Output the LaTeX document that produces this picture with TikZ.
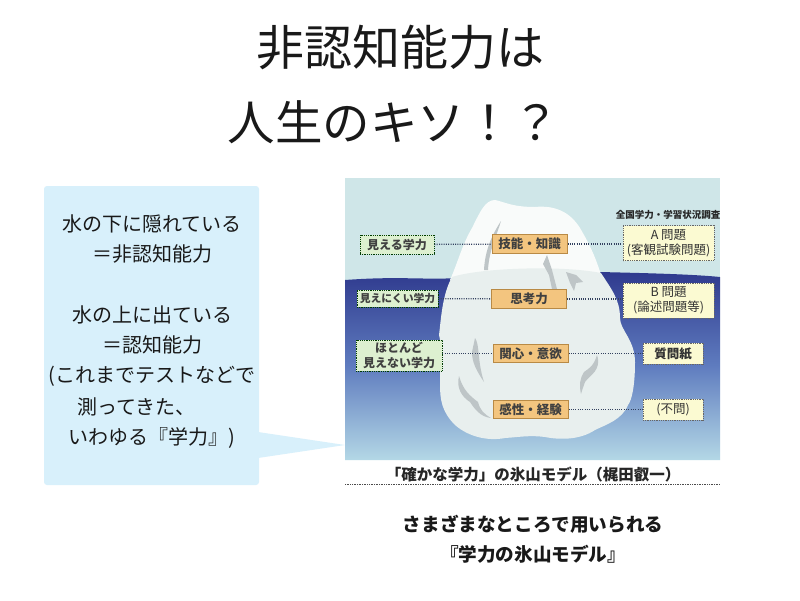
\documentclass[tikz,border=0pt]{standalone}
\usepackage{fontspec}
\setmainfont{Noto Sans CJK JP}
\usetikzlibrary{positioning}
\definecolor{calloutblue}{HTML}{D8F0FB}
\definecolor{skyblue}{HTML}{CFE6E8}
\definecolor{navywater}{HTML}{2F3A8E}
\definecolor{midwater}{HTML}{5F7CBF}
\definecolor{palewater}{HTML}{B4D8E6}
\definecolor{tipwhite}{HTML}{F9FBFA}
\definecolor{bergpale}{HTML}{E8EFEE}
\definecolor{orangebox}{HTML}{F3C57F}
\definecolor{orangeedge}{HTML}{B98A45}
\definecolor{greenbox}{HTML}{DDF0D0}
\definecolor{creambox}{HTML}{FBFAD2}
\definecolor{inkdot}{HTML}{33415F}
\definecolor{arrowgray}{HTML}{BEC5C7}
\tikzset{
  title/.style={font=\fontsize{48}{56}\selectfont, text=black!90},
  bubble/.style={font=\fontsize{20}{24}\selectfont, text=black!90},
  capt/.style={font=\fontsize{18.6}{22}\selectfont\bfseries, text=black!90},
  lvl/.style={draw=orangeedge, line width=1pt, fill=orangebox, inner sep=0pt, font=\fontsize{12.5}{15}\selectfont\bfseries, text=black!75, minimum height=18.5pt, minimum width=75pt},
  kindbox/.style={draw=black!60!green!60!black, densely dotted, line width=.8pt, fill=greenbox, inner sep=0pt, align=center, font=\fontsize{12}{14.5}\selectfont\bfseries, text=black!75},
  testbox/.style={draw=black!60, densely dotted, line width=.8pt, fill=creambox, inner sep=0pt, align=center, font=\fontsize{12.5}{15}\selectfont, text=black!80},
  link/.style={draw=inkdot, line width=1.3pt, dash pattern=on 1pt off 1.3pt},
  lump/.style={fill=arrowgray, draw=none}
}
\begin{document}
\begin{tikzpicture}[x=1pt,y=-1pt]
\useasboundingbox (0,0) rectangle (800,600);
\fill[white] (0,0) rectangle (800,600);
% titles
\node[title] (t1) at (400,47) {非認知能力は};
\node[title, font=\fontsize{47.5}{56}\selectfont] (t2) at (394,122) {人生のキソ！？};
% callout
\fill[calloutblue, rounded corners=3pt] (44,186) rectangle (259,485);
\fill[calloutblue] (258,432) -- (345,445) -- (258,458) -- cycle;
\node[bubble] (b1) at (152,224) {水の下に隠れている};
\node[bubble] (b2) at (152,254) {＝非認知能力};
\node[bubble] (b3) at (152,315) {水の上に出ている};
\node[bubble] (b4) at (152,345) {＝認知能力};
\node[bubble] (b5) at (152,376) {(これまでテストなどで};
\node[bubble, anchor=west, inner sep=0pt] (b6) at (77,407) {測ってきた、};
\node[bubble, anchor=west, inner sep=0pt] (b7) at (68,438) {いわゆる『学力』)};
% picture: sky and water
\fill[skyblue] (345,178) rectangle (720,280);
\shade[top color=navywater, bottom color=palewater, middle color=midwater, shading angle=0]
  (345,280) .. controls (400,276) and (420,280) .. (460,278) -- (600,272)
  .. controls (640,273) and (690,274) .. (720,277) -- (720,460) -- (345,460) -- cycle;
% iceberg tip
\fill[tipwhite] (450,280) .. controls (458,262) and (462,245) .. (472,228)
  .. controls (480,212) and (485,200) .. (495,200)
  .. controls (505,202) and (512,207) .. (535,207)
  .. controls (555,205) and (570,212) .. (580,228)
  .. controls (590,245) and (596,258) .. (602,278) -- cycle;
% iceberg below water
\fill[bergpale] (452,277) .. controls (480,268) and (560,265) .. (601,273)
  .. controls (612,290) and (620,300) .. (620,318)
  .. controls (620,330) and (635,340) .. (635,362)
  .. controls (635,385) and (632,400) .. (628,405)
  .. controls (622,420) and (605,425) .. (595,430)
  .. controls (580,440) and (560,440) .. (545,437)
  .. controls (530,435) and (520,437) .. (505,438)
  .. controls (490,441) and (470,438) .. (455,425)
  .. controls (442,412) and (440,400) .. (440,385)
  .. controls (440,360) and (442,345) .. (439,335)
  .. controls (441,320) and (442,295) .. (452,277) -- cycle;
% grey arrows
\fill[lump] (501,221) .. controls (497,235) and (489,250) .. (488,270) -- (484,270)
  .. controls (485,250) and (492,235) .. cycle;
\fill[lump] (547,255) -- (552,270) -- (557,289) -- (552,289) -- (549,275) -- (543,264) -- cycle;
\fill[lump] (566,272) -- (576,275) -- (583,282) -- (576,283) -- (574,291) -- (570,283) -- cycle;
\fill[lump] (475,338) .. controls (480,345) and (477,360) .. (484,382)
  .. controls (476,370) and (472,362) .. (472,352) -- cycle;
\fill[lump] (459,376) .. controls (463,390) and (470,396) .. (478,402)
  .. controls (480,410) and (484,414) .. (491,418)
  .. controls (480,417) and (474,408) .. (470,402)
  .. controls (462,397) and (456,388) .. cycle;
\fill[lump] (597,355) .. controls (602,370) and (590,375) .. (585,382)
  .. controls (583,388) and (582,390) .. (581,394)
  .. controls (579,385) and (580,378) .. (584,372)
  .. controls (590,368) and (594,365) .. cycle;
% column: left
\node[kindbox, minimum width=74pt, minimum height=19pt] (k1) at (397,244.5) {見える学力};
\node[kindbox, minimum width=81pt, minimum height=17pt, font=\fontsize{10.8}{13}\selectfont\bfseries] (k2) at (397.5,298.5) {見えにくい学力};
\node[kindbox, minimum width=86pt, minimum height=31pt] (k3) at (399,355.5) {ほとんど\\見えない学力};
% column: centre
\node[lvl] (c1) at (529.5,244) {技能・知識};
\node[lvl] (c2) at (529,299) {思考力};
\node[lvl] (c3) at (530.5,353.5) {関心・意欲};
\node[lvl] (c4) at (530.5,409.5) {感性・経験};
% column: right
\node[font=\fontsize{9.5}{11}\selectfont\bfseries, text=black!85, inner sep=0pt] (head) at (668,215) {全国学力・学習状況調査};
\node[testbox, minimum width=91pt, minimum height=35pt] (r1) at (668.5,243) {A 問題\\(客観試験問題)};
\node[testbox, minimum width=91pt, minimum height=35pt] (r2) at (668.5,300.5) {B 問題\\(論述問題等)};
\node[testbox, minimum width=60pt, minimum height=21pt, font=\fontsize{12.5}{15}\selectfont\bfseries] (r3) at (673,353.5) {質問紙};
\node[testbox, minimum width=60pt, minimum height=21pt] (r4) at (673,409.5) {(不問)};
% links
\draw[link] (k1) -- (c1);
\draw[link] (k2) -- (c2);
\draw[link] (k3.east |- c3) -- (c3);
\draw[link] (c1) -- (c1 -| r1.west);
\draw[link] (c2) -- (c2 -| r2.west);
\draw[link] (c3) -- (r3);
\draw[link] (c4) -- (r4);
% picture caption
\node[font=\fontsize{15.5}{18}\selectfont\bfseries, text=black!85, inner sep=0pt] (pc) at (533,474) {「確かな学力」の氷山モデル（梶田叡一）};
\coordinate (ul) at (345,484);
\coordinate (ur) at (720,484);
\draw[black!70, line width=.7pt, densely dotted] (ul) -- (ur);
% caption below
\node[capt] (s1) at (533,524) {さまざまなところで用いられる};
\node[capt] (s2) at (533,554) {『学力の氷山モデル』};
\end{tikzpicture}
\end{document}
